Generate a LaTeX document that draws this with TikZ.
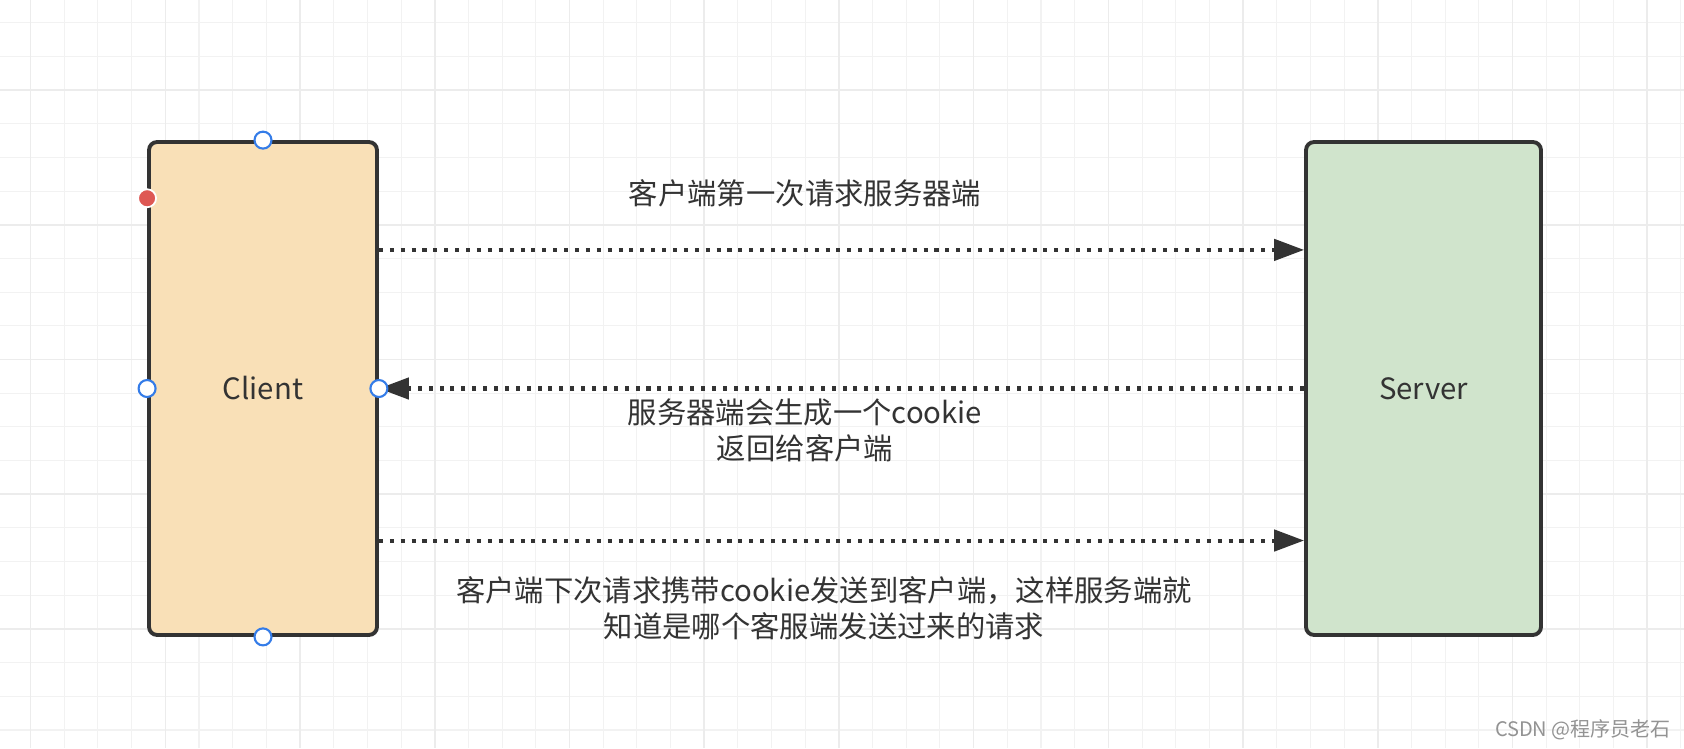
\documentclass[tikz,border=0pt]{standalone}
\usepackage{fontspec}
\usepackage{xcolor}
\usepackage{tikz}
\usetikzlibrary{arrows.meta, calc}
\setmainfont{Noto Sans CJK SC}
\definecolor{inkgray}{RGB}{51, 51, 51}
\definecolor{clientfill}{RGB}{249, 224, 183}
\definecolor{serverfill}{RGB}{208, 228, 204}
\definecolor{gridminor}{RGB}{242, 242, 242}
\definecolor{gridmajor}{RGB}{236, 236, 236}
\definecolor{handleblue}{RGB}{52, 124, 232}
\definecolor{handlered}{RGB}{222, 88, 84}
\tikzstyle{party} = [
    rectangle,
    rounded corners=0.16cm,
    minimum width=4.56cm,
    minimum height=9.86cm,
    draw=inkgray,
    line width=2.2pt,
    text=inkgray,
    font=\fontsize{16.7}{20}\selectfont
]
\tikzstyle{label} = [
    align=center,
    text=inkgray,
    inner sep=0pt,
    font=\fontsize{16.7}{20.4}\selectfont
]
\tikzstyle{arrow} = [
    line width=2.3pt,
    dash pattern=on 2.3pt off 3.9pt,
    -{Triangle[length=17pt, width=12pt]},
    color=inkgray
]
\tikzstyle{handle} = [
    circle,
    minimum size=0.34cm,
    inner sep=0pt,
    draw=handleblue,
    line width=1.2pt,
    fill=white
]
\tikzstyle{hotspot} = [
    circle,
    minimum size=0.36cm,
    inner sep=0pt,
    draw=white,
    line width=1pt,
    fill=handlered
]

\begin{document}
\begin{tikzpicture}[x=0.02cm, y=-0.02cm]
        \useasboundingbox[fill=white] (0,0) rectangle (1684,748);

        % Grid
        \foreach \k in {0,...,49} {
            \pgfmathsetmacro{\gx}{30.6+33.68*\k}
            \draw[gridminor, line width=0.6pt] (\gx,0) -- (\gx,748);
        }
        \foreach \k in {0,...,21} {
            \pgfmathsetmacro{\gy}{22.7+33.68*\k}
            \draw[gridminor, line width=0.6pt] (0,\gy) -- (1684,\gy);
        }
        \foreach \k in {0,...,12} {
            \pgfmathsetmacro{\gx}{30.6+134.72*\k}
            \draw[gridmajor, line width=0.9pt] (\gx,0) -- (\gx,748);
        }
        \foreach \k in {0,...,5} {
            \pgfmathsetmacro{\gy}{90.1+134.72*\k}
            \draw[gridmajor, line width=0.9pt] (0,\gy) -- (1684,\gy);
        }

        % Client and Server
        \node[party, fill=clientfill] (client) at (263, 388.5) {Client};
        \node[party, fill=serverfill, minimum width=4.7cm] (server) at (1423.5, 388.5) {Server};

        % First request
        \draw[arrow] ($(client.north east)!0.221!(client.south east)$) -- ($(server.north west)!0.221!(server.south west)$);
        \node[label] (askfirst) at (805, 193) {客户端第一次请求服务器端};

        % Cookie sent back
        \draw[arrow] (server.west) -- (client.east);
        \node[label] (givecookie) at (805, 430) {服务器端会生成一个cookie\\返回给客户端};

        % Next request with cookie
        \draw[arrow] ($(client.north east)!0.806!(client.south east)$) -- ($(server.north west)!0.806!(server.south west)$);
        \node[label] (askagain) at (824, 608.5) {客户端下次请求携带cookie发送到客户端，这样服务端就\\知道是哪个客服端发送过来的请求};

        % Selection handles
        \node[handle] (htop) at (client.north) {};
        \node[handle] (hleft) at (client.west) {};
        \node[handle] (hright) at (client.east) {};
        \node[handle] (hbottom) at (client.south) {};
        \node[hotspot] (hred) at ($(client.north west)!0.117!(client.south west)$) {};

        % Watermark
        \node[text=gray!85, inner sep=0pt, font=\fontsize{11.4}{13}\selectfont] (mark) at (1583, 730) {CSDN @程序员老石};
    \end{tikzpicture}
\end{document}
